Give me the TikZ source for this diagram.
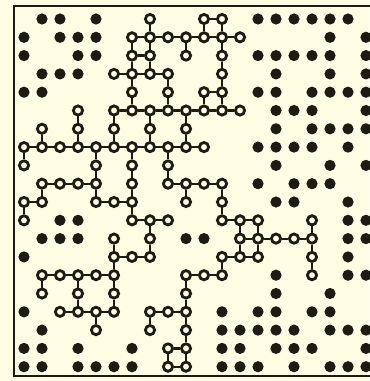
\documentclass[tikz,border=0pt]{standalone}
\usepackage{tikz}
\definecolor{perPaper}{HTML}{FFFDE3}
\definecolor{perInk}{HTML}{1E1A14}

\begin{document}
\begin{tikzpicture}[
  x=4.5mm, y=-4.575mm,
  site/.style={circle, draw=perInk, fill=perPaper, line width=0.7mm,
               minimum size=2.3mm, inner sep=0pt},
  dot/.style={circle, fill=perInk, minimum size=2.8mm, inner sep=0pt},
  bond/.style={draw=perInk, line width=0.55mm},
  frame/.style={draw=perInk, line width=0.65mm},
]
\fill[perPaper] (-1.333,-1.038) rectangle (19.167,19.781);
\useasboundingbox (-1.333,-1.038) rectangle (19.167,19.781);
\draw[frame] (19.6,-0.71) -- (-0.556,-0.71) -- (-0.556,19.5) -- (19.6,19.5);

% ======================= the spanning cluster ===========================
\foreach \r/\cols in {0/{7,10,11}, 1/{6,7,8,9,10,11,12}, 2/{6,7,9,11},
    3/{5,6,7,8,11}, 4/{6,8,10,11}, 5/{3,5,6,7,8,9,10,11,12},
    6/{1,3,5,7,9}, 7/{0,1,2,3,4,5,6,7,8,9,10}, 8/{0,4,6,8},
    9/{1,2,3,4,6,8,9,10,11}, 10/{0,1,4,5,6,9,11},
    11/{0,6,7,8,11,12,13,16}, 12/{5,7,12,13,14,15,16},
    13/{5,6,7,11,12,13,16}, 14/{1,2,3,4,5,9,10,11,16}, 15/{1,3,5,9},
    16/{2,3,4,5,7,8,9}, 17/{4,7,9}, 18/{8,9}, 19/{8,9}} {
  \foreach \c in \cols {
    \node[site] (s\c-\r) at (\c,\r) {};
  }
}

% bonds along a row: row/first/last
\foreach \r/\a/\b in {0/10/11, 1/6/12, 2/6/7, 3/5/8, 4/10/11, 5/5/12,
    7/0/10, 9/1/4, 9/8/11, 10/0/1, 10/4/6, 11/6/8, 11/11/13, 12/12/16,
    13/5/7, 13/11/13, 14/1/5, 14/9/11, 16/2/5, 16/7/9, 18/8/9, 19/8/9} {
  \pgfmathtruncatemacro\n{\a+1}
  \foreach \c [evaluate=\c as \p using int(\c-1)] in {\n,...,\b} {
    \draw[bond] (s\p-\r) -- (s\c-\r);
  }
}

% bonds along a column: column/first/last
\foreach \c/\a/\b in {0/7/8, 0/10/11, 1/6/7, 1/9/10, 1/14/15, 3/5/7,
    3/14/16, 4/7/10, 4/16/17, 5/5/7, 5/12/16, 6/1/5, 6/7/11, 7/0/3,
    7/5/7, 7/11/13, 7/16/17, 8/3/5, 8/7/9, 8/18/19, 9/1/2, 9/5/7,
    9/9/10, 9/14/19, 10/0/1, 10/4/5, 11/0/5, 11/9/11, 11/13/14,
    12/11/13, 13/11/13, 16/11/14} {
  \pgfmathtruncatemacro\n{\a+1}
  \foreach \r [evaluate=\r as \p using int(\r-1)] in {\n,...,\b} {
    \draw[bond] (s\c-\p) -- (s\c-\r);
  }
}

% ======================= the other occupied sites =======================
\foreach \r/\cols in {0/{1,2,4,13,14,15,16,17,18}, 1/{0,2,3,4,17,19},
    2/{0,3,4,13,14,15,16,17,19}, 3/{1,2,3,14,17,19},
    4/{0,1,13,14,16,17,18,19}, 5/{14,15,16,19}, 6/{14,16,17,18,19},
    7/{13,14,15,16,18}, 8/{14,17,19}, 9/{13,15,16,17}, 10/{14,15,18},
    11/{2,3,18,19}, 12/{1,2,3,9,10,18,19}, 13/{0,18}, 14/{14,18,19},
    15/{14,17}, 16/{0,11,13,14,16,17},
    17/{1,11,12,13,14,15,17,18,19}, 18/{0,1,3,6,11,12,14,15,16,19},
    19/{0,1,3,4,5,6,11,12,13,15,17,18,19}} {
  \foreach \c in \cols {
    \node[dot] (d\c-\r) at (\c,\r) {};
  }
}
\end{tikzpicture}
\end{document}
